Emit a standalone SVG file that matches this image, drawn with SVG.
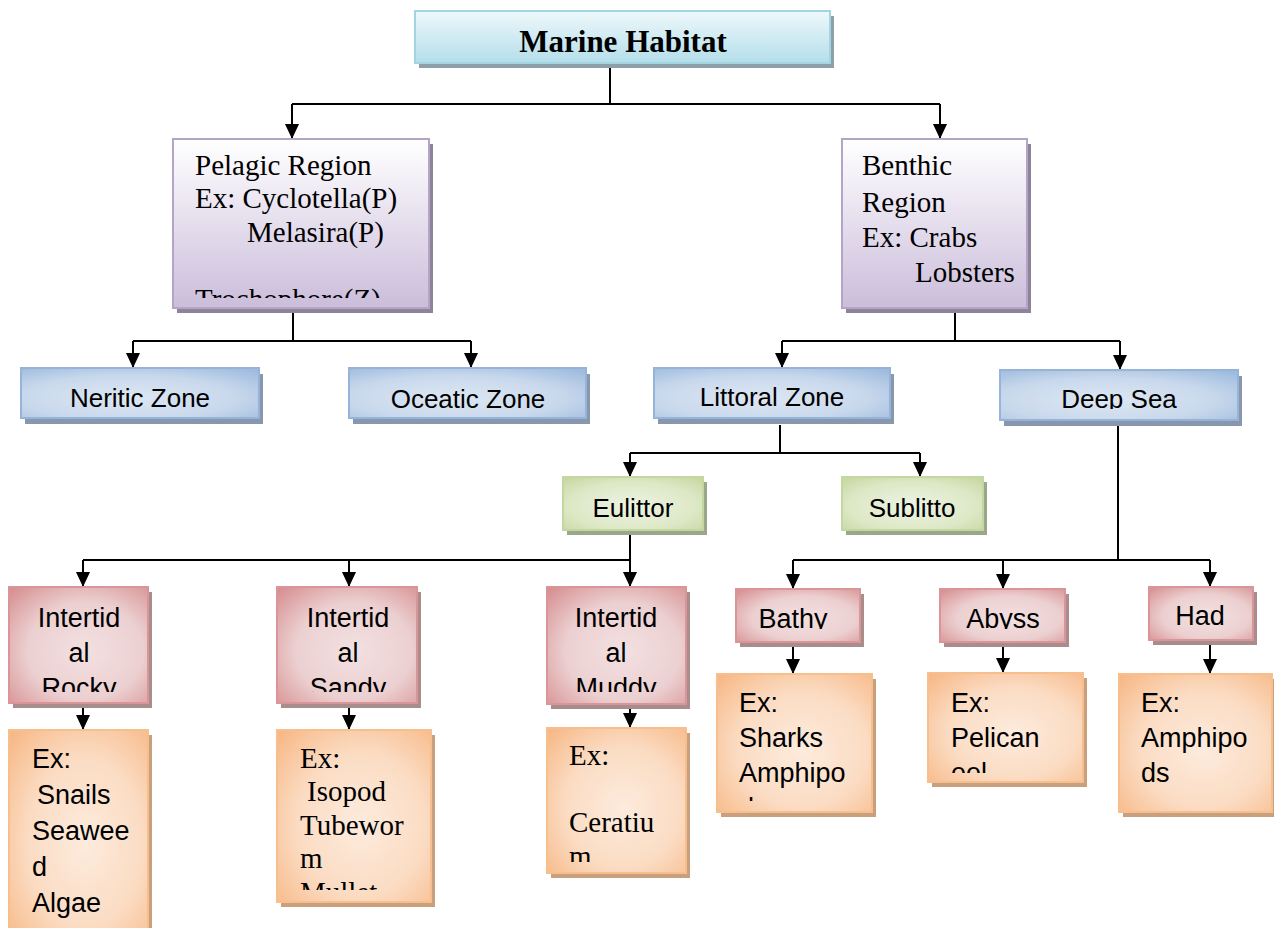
<svg xmlns="http://www.w3.org/2000/svg" width="1274" height="928" viewBox="0 0 1274 928">
<style>
.serif{font-family:"Liberation Serif","Times New Roman",serif;font-size:29px;fill:#000}
.sans{font-family:"Liberation Sans",Arial,sans-serif;font-size:26px;fill:#000}
.sans27{font-family:"Liberation Sans",Arial,sans-serif;font-size:27px;fill:#000}
.title{font-family:"Liberation Serif","Times New Roman",serif;font-size:31px;font-weight:bold;fill:#000}
.conn{stroke:#000;stroke-width:2;fill:none}
.sh-top{fill:#8d9fa8}
.sh-pur{fill:#8e8499}
.sh-blu{fill:#8798ae}
.sh-grn{fill:#9aa78b}
.sh-pnk{fill:#a98d8c}
.sh-org{fill:#c9a07e}
</style>
<defs>
<linearGradient id="gTop" x1="0" y1="0" x2="0" y2="1"><stop offset="0" stop-color="#eef8fb"/><stop offset="1" stop-color="#b4deea"/></linearGradient>
<linearGradient id="gPur" x1="0" y1="0" x2="0" y2="1"><stop offset="0" stop-color="#ffffff"/><stop offset="1" stop-color="#cbbddb"/></linearGradient>
<radialGradient id="gBlu" cx="0.45" cy="0.6" r="0.75"><stop offset="0" stop-color="#dde7f3"/><stop offset="0.6" stop-color="#c8d8ec"/><stop offset="1" stop-color="#9fbcdf"/></radialGradient>
<radialGradient id="gGrn" cx="0.5" cy="0.55" r="0.75"><stop offset="0" stop-color="#eef3e3"/><stop offset="0.6" stop-color="#dde8c6"/><stop offset="1" stop-color="#c3d59c"/></radialGradient>
<radialGradient id="gPnk" cx="0.55" cy="0.55" r="0.75"><stop offset="0" stop-color="#f3e0e1"/><stop offset="0.55" stop-color="#ecd0d1"/><stop offset="1" stop-color="#d78f91"/></radialGradient>
<radialGradient id="gOrg" cx="0.55" cy="0.55" r="0.75"><stop offset="0" stop-color="#fdebdd"/><stop offset="0.55" stop-color="#fbdcc3"/><stop offset="1" stop-color="#f7b886"/></radialGradient>
<marker id="arr" viewBox="0 0 15 14" refX="15" refY="7" markerWidth="15" markerHeight="14" markerUnits="userSpaceOnUse" orient="auto">
<path d="M0,0 L15,7 L0,14 Z" fill="#000"/>
</marker>
<clipPath id="cPel"><rect x="173" y="139" width="256" height="159"/></clipPath>
<clipPath id="cDeep"><rect x="1000" y="370" width="238" height="39"/></clipPath>
<clipPath id="cRocky"><rect x="9" y="587" width="139" height="105"/></clipPath>
<clipPath id="cSandy"><rect x="277" y="587" width="140" height="105"/></clipPath>
<clipPath id="cMuddy"><rect x="547" y="587" width="139" height="105"/></clipPath>
<clipPath id="cBathy"><rect x="736" y="589" width="124" height="40"/></clipPath>
<clipPath id="cAbyss"><rect x="940" y="589" width="125" height="40"/></clipPath>
<clipPath id="cExSandy"><rect x="277" y="730" width="154" height="160"/></clipPath>
<clipPath id="cExMuddy"><rect x="547" y="728" width="139" height="134"/></clipPath>
<clipPath id="cExBathy"><rect x="717" y="674" width="155" height="127"/></clipPath>
<clipPath id="cExAbyss"><rect x="928" y="673" width="155" height="100"/></clipPath>
</defs>
<rect width="1274" height="928" fill="#fff"/>

<g id="connectors">
<path class="conn" d="M610,63 V104 M292,104 H940"/>
<path class="conn" d="M292,104 V139" marker-end="url(#arr)"/>
<path class="conn" d="M940,104 V139" marker-end="url(#arr)"/>
<path class="conn" d="M293,313 V341 M133,341 H471"/>
<path class="conn" d="M133,341 V368" marker-end="url(#arr)"/>
<path class="conn" d="M471,341 V368" marker-end="url(#arr)"/>
<path class="conn" d="M955,313 V341 M782,341 H1120"/>
<path class="conn" d="M782,341 V368" marker-end="url(#arr)"/>
<path class="conn" d="M1120,341 V370" marker-end="url(#arr)"/>
<path class="conn" d="M780,425 V453 M630,453 H920"/>
<path class="conn" d="M630,453 V477" marker-end="url(#arr)"/>
<path class="conn" d="M920,453 V477" marker-end="url(#arr)"/>
<path class="conn" d="M630,535 V560 M83,560 H630"/>
<path class="conn" d="M83,560 V587" marker-end="url(#arr)"/>
<path class="conn" d="M349,560 V587" marker-end="url(#arr)"/>
<path class="conn" d="M630,560 V587" marker-end="url(#arr)"/>
<path class="conn" d="M1118,425 V560 M793,560 H1210"/>
<path class="conn" d="M793,560 V589" marker-end="url(#arr)"/>
<path class="conn" d="M1003,560 V589" marker-end="url(#arr)"/>
<path class="conn" d="M1210,560 V587" marker-end="url(#arr)"/>
<path class="conn" d="M83,708 V730" marker-end="url(#arr)"/>
<path class="conn" d="M349,708 V730" marker-end="url(#arr)"/>
<path class="conn" d="M630,709 V728" marker-end="url(#arr)"/>
<path class="conn" d="M793,647 V674" marker-end="url(#arr)"/>
<path class="conn" d="M1003,647 V673" marker-end="url(#arr)"/>
<path class="conn" d="M1210,645 V674" marker-end="url(#arr)"/>
</g>

<g id="marine-habitat">
<rect class="sh-top" x="419" y="16" width="415" height="52"/>
<rect x="415" y="11" width="415" height="52" fill="url(#gTop)" stroke="#a3d4e1" stroke-width="2"/>
<text class="title" x="623" y="52" text-anchor="middle">Marine Habitat</text>
</g>

<g id="pelagic">
<rect class="sh-pur" x="177" y="144" width="256" height="169"/>
<rect x="173" y="139" width="256" height="169" fill="url(#gPur)" stroke="#b4a4c8" stroke-width="2"/>
<g class="serif" clip-path="url(#cPel)">
<text x="195" y="175">Pelagic Region</text>
<text x="195" y="208">Ex: Cyclotella(P)</text>
<text x="247" y="242">Melasira(P)</text>
<text x="195" y="309">Trochophore(Z)</text>
</g>
</g>

<g id="benthic">
<rect class="sh-pur" x="846" y="144" width="185" height="169"/>
<rect x="842" y="139" width="185" height="169" fill="url(#gPur)" stroke="#b4a4c8" stroke-width="2"/>
<g class="serif">
<text x="862" y="175">Benthic</text>
<text x="862" y="212">Region</text>
<text x="862" y="247">Ex: Crabs</text>
<text x="915" y="282">Lobsters</text>
</g>
</g>

<g id="neritic">
<rect class="sh-blu" x="25" y="374" width="238" height="50"/>
<rect x="21" y="368" width="238" height="50" fill="url(#gBlu)" stroke="#97b4d8" stroke-width="2"/>
<text class="sans" x="140" y="407" text-anchor="middle">Neritic Zone</text>
</g>
<g id="oceatic">
<rect class="sh-blu" x="353" y="374" width="237" height="50"/>
<rect x="349" y="368" width="237" height="50" fill="url(#gBlu)" stroke="#97b4d8" stroke-width="2"/>
<text class="sans" x="468" y="408" text-anchor="middle">Oceatic Zone</text>
</g>
<g id="littoral">
<rect class="sh-blu" x="658" y="374" width="236" height="50"/>
<rect x="654" y="368" width="236" height="50" fill="url(#gBlu)" stroke="#97b4d8" stroke-width="2"/>
<text class="sans" x="772" y="406" text-anchor="middle">Littoral Zone</text>
</g>
<g id="deep-sea">
<rect class="sh-blu" x="1004" y="376" width="238" height="50"/>
<rect x="1000" y="370" width="238" height="50" fill="url(#gBlu)" stroke="#97b4d8" stroke-width="2"/>
<text class="sans" x="1119" y="408" text-anchor="middle" clip-path="url(#cDeep)">Deep Sea</text>
</g>

<g id="eulittor">
<rect class="sh-grn" x="567" y="482" width="140" height="53"/>
<rect x="563" y="477" width="140" height="53" fill="url(#gGrn)" stroke="#c5d7a0" stroke-width="2"/>
<text class="sans" x="633" y="517" text-anchor="middle">Eulittor</text>
</g>
<g id="sublitto">
<rect class="sh-grn" x="846" y="482" width="141" height="53"/>
<rect x="842" y="477" width="141" height="53" fill="url(#gGrn)" stroke="#c5d7a0" stroke-width="2"/>
<text class="sans" x="912" y="517" text-anchor="middle">Sublitto</text>
</g>

<g id="intertidal-rocky">
<rect class="sh-pnk" x="13" y="592" width="139" height="116"/>
<rect x="9" y="587" width="139" height="116" fill="url(#gPnk)" stroke="#d99597" stroke-width="2"/>
<g class="sans27" text-anchor="middle" clip-path="url(#cRocky)">
<text x="79" y="627">Intertid</text>
<text x="79" y="662">al</text>
<text x="79" y="697">Rocky</text>
</g>
</g>
<g id="intertidal-sandy">
<rect class="sh-pnk" x="281" y="592" width="140" height="116"/>
<rect x="277" y="587" width="140" height="116" fill="url(#gPnk)" stroke="#d99597" stroke-width="2"/>
<g class="sans27" text-anchor="middle" clip-path="url(#cSandy)">
<text x="348" y="627">Intertid</text>
<text x="348" y="662">al</text>
<text x="348" y="697">Sandy</text>
</g>
</g>
<g id="intertidal-muddy">
<rect class="sh-pnk" x="551" y="592" width="139" height="117"/>
<rect x="547" y="587" width="139" height="117" fill="url(#gPnk)" stroke="#d99597" stroke-width="2"/>
<g class="sans27" text-anchor="middle" clip-path="url(#cMuddy)">
<text x="616" y="627">Intertid</text>
<text x="616" y="662">al</text>
<text x="616" y="697">Muddy</text>
</g>
</g>
<g id="bathy">
<rect class="sh-pnk" x="740" y="594" width="124" height="53"/>
<rect x="736" y="589" width="124" height="53" fill="url(#gPnk)" stroke="#d99597" stroke-width="2"/>
<text class="sans27" x="793" y="628" text-anchor="middle" clip-path="url(#cBathy)">Bathy</text>
</g>
<g id="abyss">
<rect class="sh-pnk" x="944" y="594" width="125" height="53"/>
<rect x="940" y="589" width="125" height="53" fill="url(#gPnk)" stroke="#d99597" stroke-width="2"/>
<text class="sans27" x="1003" y="628" text-anchor="middle" clip-path="url(#cAbyss)">Abyss</text>
</g>
<g id="had">
<rect class="sh-pnk" x="1153" y="592" width="104" height="53"/>
<rect x="1149" y="587" width="104" height="53" fill="url(#gPnk)" stroke="#d99597" stroke-width="2"/>
<text class="sans27" x="1200" y="625" text-anchor="middle">Had</text>
</g>

<g id="ex-rocky">
<rect class="sh-org" x="13" y="735" width="139" height="200"/>
<rect x="9" y="730" width="139" height="205" fill="url(#gOrg)" stroke="#f8bf8e" stroke-width="2"/>
<g class="sans27">
<text x="32" y="768">Ex:</text>
<text x="37" y="804">Snails</text>
<text x="32" y="840">Seawee</text>
<text x="32" y="876">d</text>
<text x="32" y="912">Algae</text>
</g>
</g>
<g id="ex-sandy">
<rect class="sh-org" x="281" y="735" width="154" height="172"/>
<rect x="277" y="730" width="154" height="172" fill="url(#gOrg)" stroke="#f8bf8e" stroke-width="2"/>
<g class="serif" clip-path="url(#cExSandy)">
<text x="300" y="768">Ex:</text>
<text x="307" y="801">Isopod</text>
<text x="300" y="835">Tubewor</text>
<text x="300" y="868">m</text>
<text x="300" y="902">Mullet</text>
</g>
</g>
<g id="ex-muddy">
<rect class="sh-org" x="551" y="733" width="139" height="145"/>
<rect x="547" y="728" width="139" height="145" fill="url(#gOrg)" stroke="#f8bf8e" stroke-width="2"/>
<g class="serif" clip-path="url(#cExMuddy)">
<text x="569" y="765">Ex:</text>
<text x="569" y="832">Ceratiu</text>
<text x="569" y="866">m</text>
</g>
</g>
<g id="ex-bathy">
<rect class="sh-org" x="721" y="679" width="155" height="138"/>
<rect x="717" y="674" width="155" height="138" fill="url(#gOrg)" stroke="#f8bf8e" stroke-width="2"/>
<g class="sans27" clip-path="url(#cExBathy)">
<text x="739" y="712">Ex:</text>
<text x="739" y="747">Sharks</text>
<text x="739" y="782">Amphipo</text>
<text x="739" y="817">ds</text>
</g>
</g>
<g id="ex-abyss">
<rect class="sh-org" x="932" y="678" width="155" height="109"/>
<rect x="928" y="673" width="155" height="109" fill="url(#gOrg)" stroke="#f8bf8e" stroke-width="2"/>
<g class="sans27" clip-path="url(#cExAbyss)">
<text x="951" y="712">Ex:</text>
<text x="951" y="747">Pelican</text>
<text x="951" y="782">eel</text>
</g>
</g>
<g id="ex-had">
<rect class="sh-org" x="1123" y="679" width="153" height="138"/>
<rect x="1119" y="674" width="153" height="138" fill="url(#gOrg)" stroke="#f8bf8e" stroke-width="2"/>
<g class="sans27">
<text x="1141" y="712">Ex:</text>
<text x="1141" y="747">Amphipo</text>
<text x="1141" y="782">ds</text>
</g>
</g>
</svg>
